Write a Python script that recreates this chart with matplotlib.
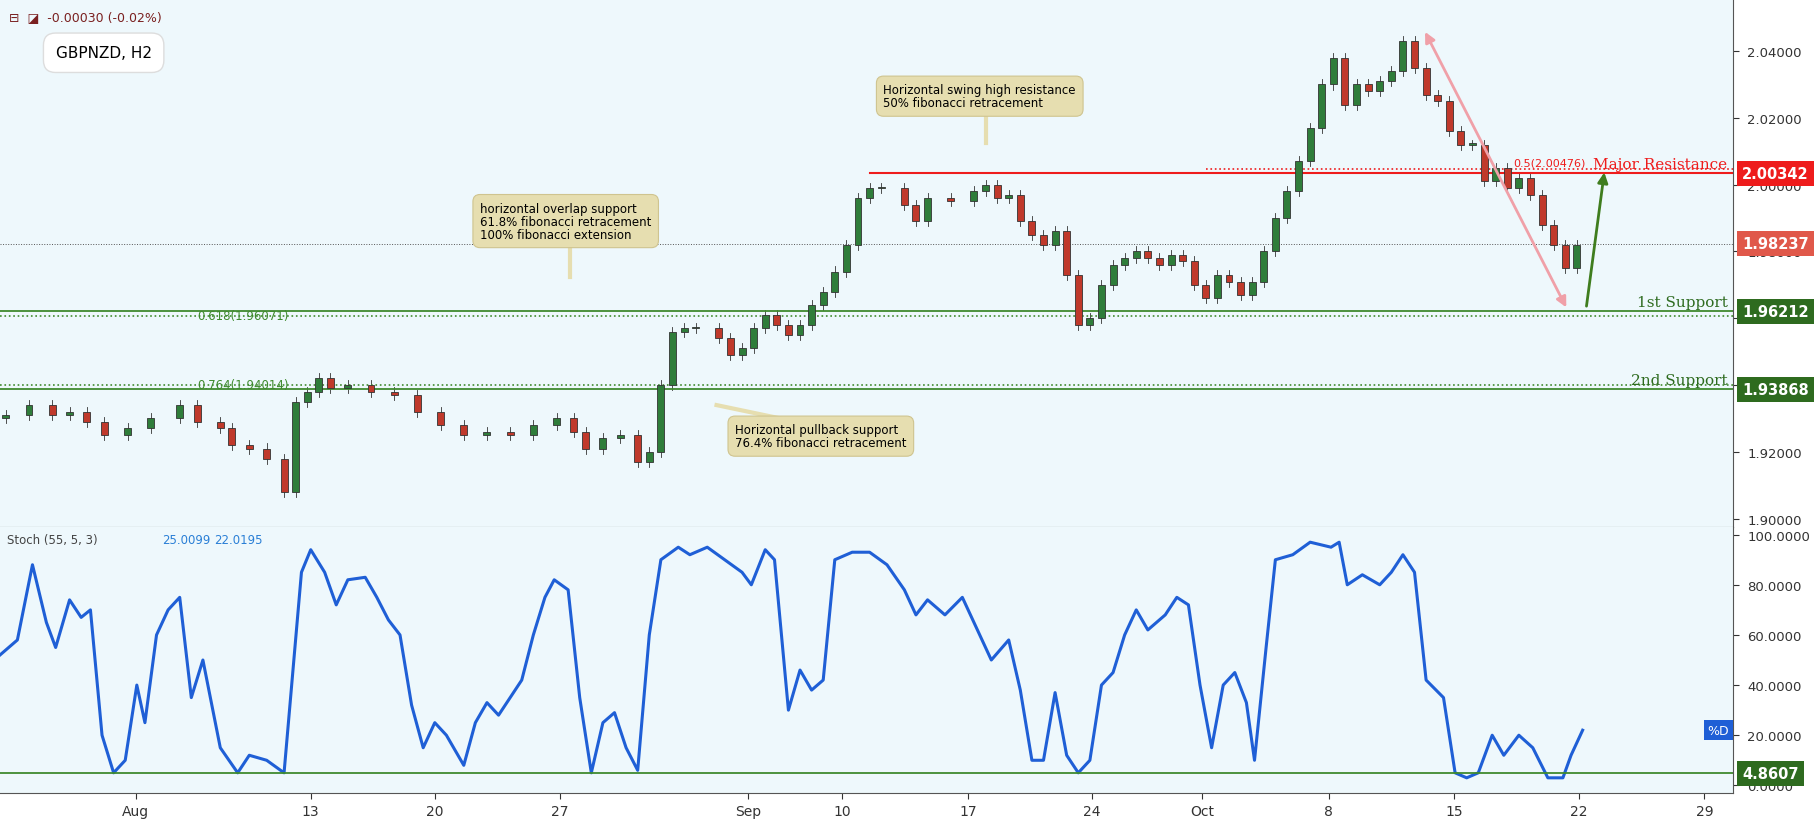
import matplotlib.pyplot as plt
from matplotlib.patches import Rectangle

# time axis positions (chart bar slots) and tick labels
tick_pos = [117, 268, 375, 483, 645, 726, 835, 942, 1037, 1146, 1254, 1362, 1470]
tick_labels = ['Aug', '13', '20', '27', 'Sep', '10', '17', '24', 'Oct', '8', '15', '22', '29']

# GBPNZD H2 closes (sampled)
bar_x = [5, 25, 45, 60, 75, 90, 110, 130, 155, 170, 190, 200, 215, 230, 245, 255, 265, 275, 285,
         300, 320, 340, 360, 380, 400, 420, 440, 460, 480, 495, 505, 520, 535, 550, 560, 570, 580,
         590, 600, 620, 630, 640, 650, 660, 670, 680, 690, 700, 710, 720, 730, 740, 750, 760, 780,
         790, 800, 820, 840, 850, 860, 870, 880, 890, 900, 910, 920, 930, 940, 950, 960, 970, 980,
         990, 1000, 1010, 1020, 1030, 1040, 1050, 1060, 1070, 1080, 1090, 1100, 1110, 1120, 1130,
         1140, 1150, 1160, 1170, 1180, 1190, 1200, 1210, 1220, 1230, 1240, 1250, 1260, 1270, 1280,
         1290, 1300, 1310, 1320, 1330, 1340, 1350, 1360]
closes = [1.931, 1.934, 1.931, 1.932, 1.929, 1.925, 1.927, 1.930, 1.934, 1.929, 1.927, 1.922,
          1.921, 1.918, 1.908, 1.935, 1.938, 1.942, 1.939, 1.940, 1.938, 1.937, 1.932, 1.928,
          1.925, 1.926, 1.925, 1.928, 1.930, 1.926, 1.921, 1.924, 1.925, 1.917, 1.920, 1.940,
          1.956, 1.957, 1.957, 1.954, 1.949, 1.951, 1.957, 1.961, 1.958, 1.955, 1.958, 1.964,
          1.968, 1.974, 1.982, 1.996, 1.999, 1.999, 1.994, 1.989, 1.996, 1.995, 1.998, 2.000,
          1.996, 1.997, 1.989, 1.985, 1.982, 1.986, 1.973, 1.958, 1.960, 1.970, 1.976, 1.978,
          1.980, 1.978, 1.976, 1.979, 1.977, 1.970, 1.966, 1.973, 1.971, 1.967, 1.971, 1.980,
          1.990, 1.998, 2.007, 2.017, 2.030, 2.038, 2.024, 2.030, 2.028, 2.031, 2.034, 2.043,
          2.035, 2.027, 2.025, 2.016, 2.012, 2.012, 2.001, 2.005, 1.999, 2.002, 1.997, 1.988,
          1.982, 1.975, 1.982]
first_open = 1.930

# stochastic %D
stoch_x = [0, 15, 28, 40, 48, 60, 70, 78, 88, 98, 108, 118, 125, 135, 145, 155, 165, 175, 190,
           205, 215, 230, 245, 260, 268, 280, 290, 300, 315, 325, 335, 345, 355, 365, 375, 385,
           400, 410, 420, 430, 440, 450, 460, 470, 478, 490, 500, 510, 520, 530, 540, 550, 560,
           570, 585, 595, 610, 625, 640, 648, 660, 668, 680, 690, 700, 710, 720, 735, 750, 765,
           780, 790, 800, 815, 830, 845, 855, 870, 880, 890, 900, 910, 920, 930, 940, 950, 960,
           970, 980, 990, 1005, 1015, 1025, 1035, 1045, 1055, 1065, 1075, 1082, 1092, 1100, 1115,
           1130, 1148, 1155, 1162, 1175, 1190, 1200, 1210, 1220, 1230, 1245, 1255, 1265, 1275,
           1287, 1297, 1310, 1322, 1335, 1348, 1355, 1365]
stoch_d = [52, 58, 88, 65, 55, 74, 67, 70, 20, 5, 10, 40, 25, 60, 70, 75, 35, 50, 15, 5, 12, 10,
           5, 85, 94, 85, 72, 82, 83, 75, 66, 60, 32, 15, 25, 20, 8, 25, 33, 28, 35, 42, 60, 75,
           82, 78, 35, 5, 25, 29, 15, 6, 60, 90, 95, 92, 95, 90, 85, 80, 94, 90, 30, 46, 38, 42,
           90, 93, 93, 88, 78, 68, 74, 68, 75, 60, 50, 58, 38, 10, 10, 37, 12, 5, 10, 40, 45, 60,
           70, 62, 68, 75, 72, 40, 15, 40, 45, 33, 10, 55, 90, 92, 97, 95, 97, 80, 84, 80, 85, 92,
           85, 42, 35, 5, 3, 5, 20, 12, 20, 15, 3, 3, 12, 22]

resistance = 2.00342
fib50 = 2.00476
last_price = 1.98237
support1 = 1.96212
fib618 = 1.96071
support2 = 1.93868
fib764 = 1.94014
stoch_support = 4.8607

W, H = 1568, 714
BG = '#eef8fc'
fig = plt.figure(figsize=(18.18, 8.28), dpi=100, facecolor='white')
ax = fig.add_axes([0, 1 - 455 / H, 1495 / W, 455 / H], facecolor=BG)
ax2 = fig.add_axes([0, 1 - 685 / H, 1495 / W, 230 / H], facecolor=BG, sharex=ax)

XMAX = 1495
ax.set_xlim(0, XMAX)
ax.set_ylim(1.8976, 2.0556)

# candles
prev = first_open
for x, c in zip(bar_x, closes):
    up = c >= prev
    col = '#2f7d3a' if up else '#c0392b'
    ax.add_patch(Rectangle((x - 3, min(prev, c)), 6, max(abs(c - prev), 0.0004),
                           facecolor=col, edgecolor='#333333', linewidth=0.6, zorder=3))
    ax.plot([x, x], [min(prev, c) - 0.0015, max(prev, c) + 0.0015], color='#333333', lw=0.6, zorder=2)
    prev = c

# levels
ax.plot([750, XMAX], [resistance] * 2, color='#ee1c1c', lw=1.5)
ax.plot([1040, XMAX], [fib50] * 2, color='#ee1c1c', lw=1.2, ls=':')
ax.text(1368, fib50 + 0.0003, '0.5(2.00476)', color='#ee1c1c', fontsize=8, ha='right', va='bottom')
ax.axhline(support1, color='#3f8a2e', lw=1.3)
ax.axhline(fib618, color='#3f8a2e', lw=1.2, ls=':')
ax.text(170, fib618, '0.618(1.96071)', color='#3f8a2e', fontsize=8.5, va='center')
ax.axhline(support2, color='#3f8a2e', lw=1.3)
ax.axhline(fib764, color='#3f8a2e', lw=1.2, ls=':')
ax.text(170, fib764, '0.764(1.94014)', color='#3f8a2e', fontsize=8.5, va='center')
ax.axhline(last_price, color='#555555', lw=0.7, ls=':')

ax.text(1490, resistance + 0.0027, 'Major Resistance', color='#ee1c1c', fontsize=11,
        family='DejaVu Serif', ha='right', va='center')
ax.text(1490, support1 + 0.0027, '1st Support', color='#2e6b1f', fontsize=11,
        family='DejaVu Serif', ha='right', va='center')
ax.text(1490, support2 + 0.0027, '2nd Support', color='#2e6b1f', fontsize=11,
        family='DejaVu Serif', ha='right', va='center')

# arrows
ax.annotate('', xy=(1352, 1.9625), xytext=(1228, 2.0465),
            arrowprops=dict(arrowstyle='<|-|>', color='#f0a0a8', lw=2, mutation_scale=15))
ax.annotate('', xy=(1384, 2.0045), xytext=(1368, 1.9628),
            arrowprops=dict(arrowstyle='-|>', color='#3f7d1e', lw=2, mutation_scale=15))

# callout boxes
box = dict(boxstyle='round,pad=0.6', facecolor='#e6deb0', edgecolor='#cfc48f', lw=0.8)
ax.text(762, 2.0265, 'Horizontal swing high resistance\n50% fibonacci retracement', fontsize=8.5,
        va='center', bbox=box, linespacing=1.0)
ax.plot([850, 850], [2.0215, 2.0125], color='#e6deb0', lw=3)
ax.text(414, 1.9891, 'horizontal overlap support\n61.8% fibonacci retracement\n100% fibonacci extension',
        fontsize=8.5, va='center', bbox=box, linespacing=1.0)
ax.plot([492, 492], [1.9815, 1.9725], color='#e6deb0', lw=3)
ax.text(634, 1.9247, 'Horizontal pullback support\n76.4% fibonacci retracement', fontsize=8.5,
        va='center', bbox=box, linespacing=1.0)
ax.plot([618, 680], [1.9340, 1.9295], color='#e6deb0', lw=3)
ax.text(48, 2.0395, 'GBPNZD, H2', fontsize=11, va='center',
        bbox=dict(boxstyle='round,pad=0.8', facecolor='white', edgecolor='#dddddd'))
ax.text(8, 2.0500, '⊟  ◪  -0.00030 (-0.02%)', color='#7a2020', fontsize=9, va='center')

# right price axis
ax.yaxis.tick_right()
ax.set_yticks([1.90, 1.92, 1.94, 1.96, 1.98, 2.00, 2.02, 2.04])
ax.set_yticklabels(['1.90000', '1.92000', '1.94000', '1.96000', '1.98000', '2.00000', '2.02000', '2.04000'])
ax.tick_params(axis='y', labelsize=9.5, length=4, pad=6, colors='#333333')
ax.tick_params(axis='x', labelbottom=False, length=0)
for val, col in [(resistance, '#ee1c1c'), (last_price, '#e0584a'), (support1, '#2e6b1f'),
                 (support2, '#2e6b1f')]:
    ax.text(1.005, val, f'{val:.5f}', transform=ax.get_yaxis_transform(), color='white',
            fontsize=10.5, fontweight='bold', va='center', ha='left',
            bbox=dict(boxstyle='square,pad=0.35', facecolor=col, edgecolor='none'), zorder=5)

# stochastic panel
ax2.plot(stoch_x, stoch_d, color='#1f5fd6', lw=2.2)
ax2.axhline(stoch_support, color='#3f8a2e', lw=1.3)
ax2.set_ylim(-3.2, 103.2)
ax2.yaxis.tick_right()
ax2.set_yticks([0, 20, 40, 60, 80, 100])
ax2.set_yticklabels(['0.0000', '20.0000', '40.0000', '60.0000', '80.0000', '100.0000'])
ax2.tick_params(axis='y', labelsize=9.5, length=4, pad=6, colors='#333333')
ax2.text(1.005, stoch_support, f'{stoch_support:.4f}', transform=ax2.get_yaxis_transform(),
         color='white', fontsize=10.5, fontweight='bold', va='center',
         bbox=dict(boxstyle='square,pad=0.35', facecolor='#2e6b1f', edgecolor='none'))
ax2.text(1482, 22, '%D', color='white', fontsize=9, ha='center', va='center',
         bbox=dict(boxstyle='square,pad=0.3', facecolor='#1f5fd6', edgecolor='none'))
ax2.text(6, 98, 'Stoch (55, 5, 3)', fontsize=8.5, color='#444444', va='center')
ax2.text(140, 98, '25.0099', fontsize=8.5, color='#2a7fd6', va='center')
ax2.text(185, 98, '22.0195', fontsize=8.5, color='#2a7fd6', va='center')
ax2.set_xticks(tick_pos)
ax2.set_xticklabels(tick_labels)
ax2.tick_params(axis='x', labelsize=10, length=4, colors='#333333')

for a in (ax, ax2):
    for s in a.spines.values():
        s.set_color('#555555')
        s.set_linewidth(0.8)
    a.spines['top'].set_visible(False)
    a.spines['left'].set_visible(False)

fig.savefig('out.png', dpi=100, facecolor='white')
